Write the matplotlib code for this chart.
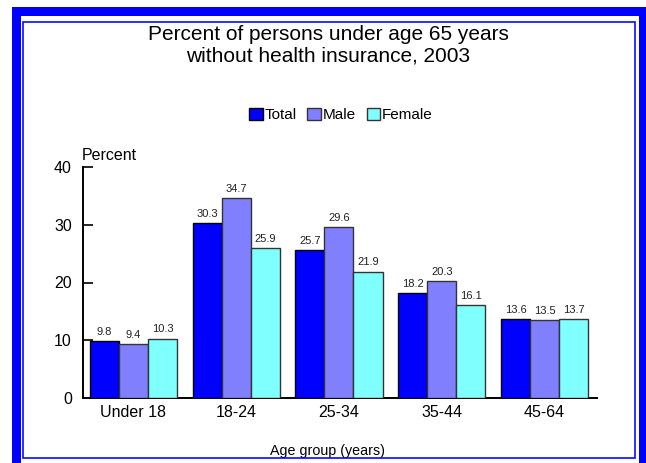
import matplotlib
matplotlib.use("Agg")
import matplotlib.pyplot as plt
from matplotlib.patches import Rectangle
import numpy as np

plt.rcParams['font.family'] = ['Liberation Sans', 'DejaVu Sans']

categories = ["Under 18", "18-24", "25-34", "35-44", "45-64"]
total = [9.8, 30.3, 25.7, 18.2, 13.6]
male = [9.4, 34.7, 29.6, 20.3, 13.5]
female = [10.3, 25.9, 21.9, 16.1, 13.7]
series_names = ["Total", "Male", "Female"]
colors = ["#0000FF", "#8080FF", "#80FFFF"]

W, H = 646, 463
fig = plt.figure(figsize=(W / 100, H / 100), dpi=100)

# Frame
def fx(x):
    return x / W

def fy(y):
    return 1 - y / H

outer = Rectangle((fx(15.5), fy(465)), fx(642.5) - fx(15.5), fy(11) - fy(465),
                  transform=fig.transFigure, fill=False, edgecolor="#0000FF",
                  linewidth=9 * 0.72, zorder=10)
inner = Rectangle((fx(22.5), fy(457.5)), fx(634.5) - fx(22.5), fy(21.5) - fy(457.5),
                  transform=fig.transFigure, fill=False, edgecolor="#0000FF",
                  linewidth=1.6 * 0.72, zorder=10)
fig.patches.extend([outer, inner])

ax = fig.add_axes([83 / W, 1 - 398 / H, (597 - 83) / W, (398 - 167) / H])

x = np.arange(len(categories))
bw = 0.2825
data = [total, male, female]
edges = ["#000000", "#333333", "#333333"]
for i, (vals, c, name) in enumerate(zip(data, colors, series_names)):
    pos = x + (i - 1) * bw
    ax.bar(pos, vals, width=bw, color=c, edgecolor=edges[i], linewidth=1.0,
           label=name, zorder=3)
    for xp, v in zip(pos, vals):
        ax.text(xp, v + 0.7, f"{v:.1f}", ha="center", va="bottom", fontsize=8,
                color="#222222")

ax.set_xlim(-0.49, 4.51)
ax.set_ylim(0, 40)
ax.set_yticks([0, 10, 20, 30, 40])
ax.set_xticks(x)
ax.set_xticklabels(categories, fontsize=11.5)
ax.tick_params(axis="y", direction="in", length=7, width=1.2, labelsize=11.5, pad=8)
ax.tick_params(axis="x", length=0, pad=5)
for s in ["top", "right"]:
    ax.spines[s].set_visible(False)
ax.spines["left"].set_linewidth(1.4)
ax.spines["bottom"].set_linewidth(1.4)

fig.text(fx(82), fy(156), "Percent", fontsize=11.5, ha="left", va="center")
fig.text(fx(328), fy(451), "Age group (years)", fontsize=10.3, ha="center", va="center")
fig.text(fx(328), fy(45), "Percent of persons under age 65 years\nwithout health insurance, 2003",
         fontsize=15, ha="center", va="center", linespacing=1.2)

handles, labels = ax.get_legend_handles_labels()
fig.legend(handles, labels, loc="center", bbox_to_anchor=(fx(341), fy(115)), ncol=3,
           frameon=False, fontsize=11, handlelength=0.9, handleheight=0.9,
           handletextpad=0.1, columnspacing=0.7, borderpad=0)

fig.savefig("out.png", dpi=100)
